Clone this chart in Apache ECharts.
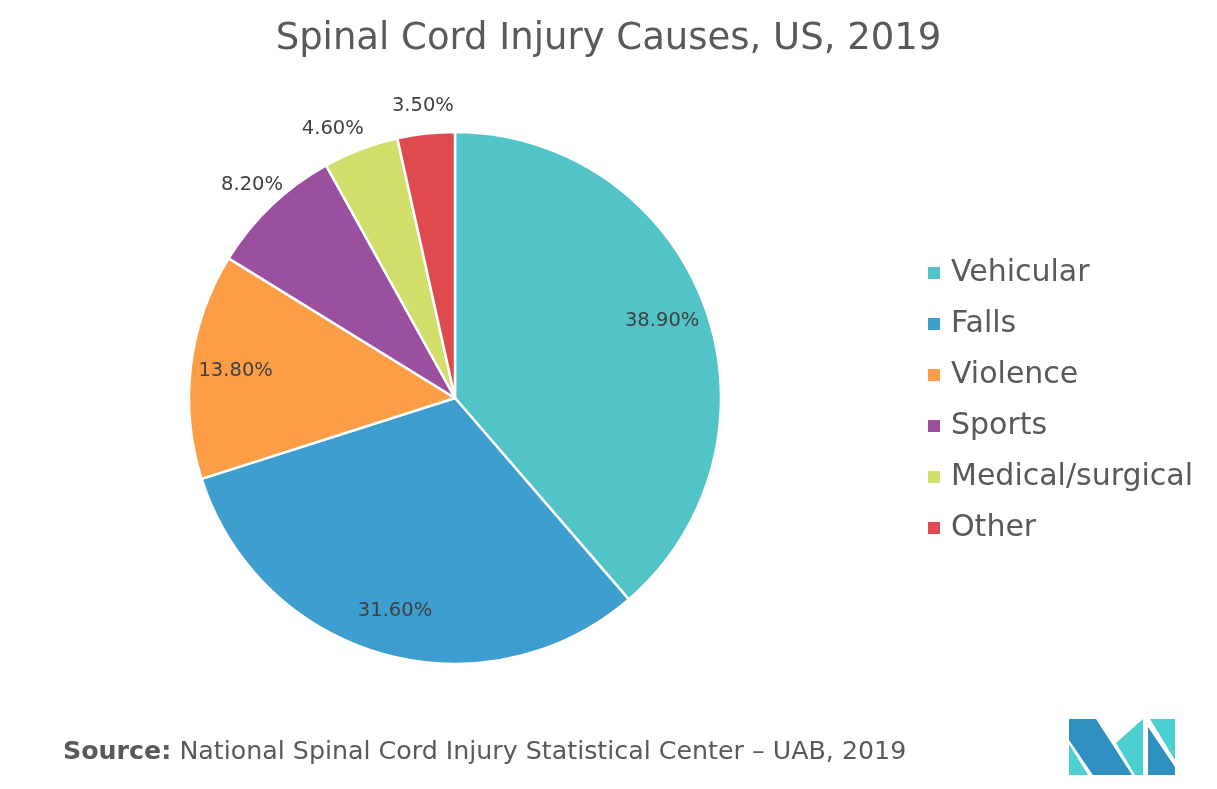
<!DOCTYPE html>
<html><head><meta charset="utf-8">
<script src="https://cdn.jsdelivr.net/npm/echarts@6/dist/echarts.min.js"></script>
<style>html,body{margin:0;padding:0;background:#fff}#c{width:1217px;height:789px}</style>
</head><body><div id="c"></div>
<script>
const categories = ["Vehicular","Falls","Violence","Sports","Medical/surgical","Other"];
const values = [38.9,31.6,13.8,8.2,4.6,3.5];
const colors = ["#52c4c7","#3d9ecf","#fd9d45","#9b509f","#d1df6a","#de4a4d"];
const insideLabeled = [true,true,true,false,false,false];

const FONT = '"DejaVu Sans", "Noto Sans", sans-serif';
const fmt = p => p.value.toFixed(2) + '%';
const mainData = categories.map((n,i)=>({name:n, value:values[i], itemStyle:{color:colors[i]}}));
const innerLab = categories.map((n,i)=>({name:n, value:values[i], label:{show:insideLabeled[i]}}));
const outerLab = categories.map((n,i)=>({name:n, value:values[i], label:{show:!insideLabeled[i], offset: i===4?[-18,6]:[0,0]}}));

const chart = echarts.init(document.getElementById('c'), null, {renderer:'canvas'});
const labelStyle = {position:'inside', formatter:fmt, color:'#404040', fontSize:19.5, fontFamily:FONT};
chart.setOption({
  animation:false,
  title:{text:'Spinal Cord Injury Causes, US, 2019', left:'center', top:16,
    textStyle:{color:'#595959', fontSize:37, fontWeight:'normal', fontFamily:FONT}},
  legend:{orient:'vertical', left:921, top:253, icon:'rect', itemWidth:14, itemHeight:14, itemGap:21,
    data:categories, selectedMode:false,
    textStyle:{color:'#595959', fontSize:30, fontFamily:FONT, lineHeight:30, padding:[0,0,0,5]}},
  series:[
    {type:'pie', center:[455,398], radius:[0,266], startAngle:90, clockwise:true, data:mainData,
      itemStyle:{borderColor:'#fff', borderWidth:2.5}, label:{show:false}, labelLine:{show:false}, silent:true},
    {type:'pie', center:[455,398], radius:[210,226], startAngle:90, clockwise:true, data:innerLab,
      itemStyle:{color:'rgba(0,0,0,0)'}, label:labelStyle, labelLine:{show:false}, silent:true, legendHoverLink:false},
    {type:'pie', center:[455,398], radius:[286,296], startAngle:90, clockwise:true, data:outerLab,
      itemStyle:{color:'rgba(0,0,0,0)'}, label:labelStyle, labelLine:{show:false}, silent:true, legendHoverLink:false}
  ],
  graphic:[
    {type:'text', left:63, top:740, style:{
      text:'{b|Source:} National Spinal Cord Injury Statistical Center \u2013 UAB, 2019',
      fill:'#595959', font:'25.3px '+FONT,
      rich:{b:{fontWeight:'bold', fontSize:25.3, fontFamily:FONT, fill:'#595959'}}}},
    {type:'polygon', shape:{points:[[1069,719],[1096,719],[1132,775],[1093,775],[1069,740]]}, style:{fill:'#2e8fc0'}},
    {type:'polygon', shape:{points:[[1069,744],[1069,775],[1088,775]]}, style:{fill:'#4bcfd0'}},
    {type:'polygon', shape:{points:[[1116,743],[1143,719],[1143,775],[1135,775]]}, style:{fill:'#4bcfd0'}},
    {type:'polygon', shape:{points:[[1150,719],[1175,719],[1175,760]]}, style:{fill:'#4bcfd0'}},
    {type:'polygon', shape:{points:[[1148,727],[1175,767],[1175,775],[1148,775]]}, style:{fill:'#2e8fc0'}}
  ]
});
</script></body></html>
